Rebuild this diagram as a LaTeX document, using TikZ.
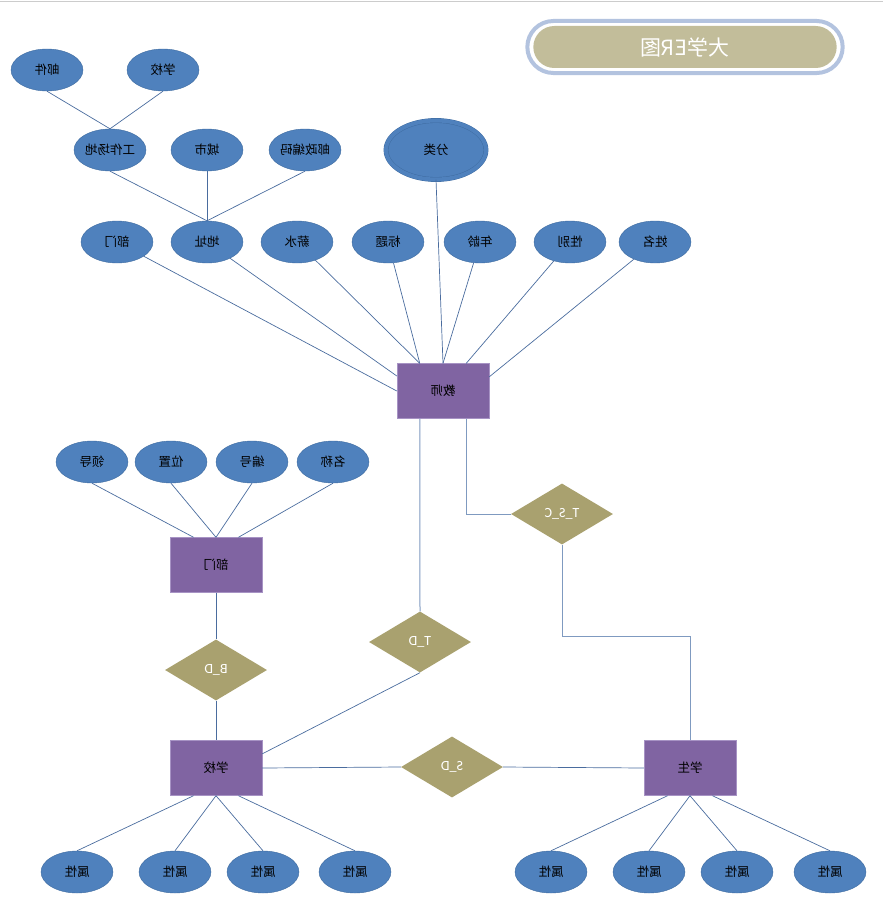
\documentclass[tikz,border=0pt]{standalone}
\usepackage{graphicx}
\usepackage{fontspec}
\setmainfont{Noto Sans CJK SC}
\newfontfamily\latinfont{Carlito}
\usetikzlibrary{shapes.geometric,shapes.misc}

\definecolor{ellblue}{HTML}{4F81BD}
\definecolor{ellborder}{HTML}{3D6A9F}
\definecolor{boxpurple}{HTML}{8064A2}
\definecolor{boxborder}{HTML}{A793C4}
\definecolor{relcol}{HTML}{A9A16F}
\definecolor{linecol}{HTML}{4A6C9E}
\definecolor{lightline}{HTML}{7F9AC0}
\definecolor{titletan}{HTML}{C2BD9A}
\definecolor{titleframe}{HTML}{B3C3DF}

% the reference shows all its text mirrored
\newcommand{\mir}[1]{\reflectbox{#1}}

\begin{document}
\begin{tikzpicture}[x=1pt, y=-1pt,
  attr/.style={ellipse, draw=ellborder, fill=ellblue, minimum width=72pt,
    minimum height=42pt, inner sep=0pt, font=\fontsize{12.5}{14}\selectfont},
  entity/.style={rectangle, draw=boxborder, fill=boxpurple, minimum width=92pt,
    minimum height=55pt, font=\fontsize{12.5}{14}\selectfont},
  rel/.style={diamond, fill=relcol, minimum width=102pt, minimum height=61pt,
    inner sep=0pt, text=white, font=\latinfont\fontsize{14}{16}\selectfont},
  link/.style={draw=linecol, line width=0.7pt},
  softlink/.style={draw=lightline, line width=1pt}]
  \useasboundingbox (0,0) rectangle (883,907);
  \draw[gray!40] (0,1) -- (883,1);

  % title
  \node[rounded rectangle, draw=titleframe, line width=4pt, fill=white,
    minimum width=322pt, minimum height=52pt] (titlebox) at (685,47) {};
  \node[rounded rectangle, fill=titletan, minimum width=310pt, minimum height=42pt,
    text=white, font=\fontsize{21}{24}\selectfont] (title) at (685,47) {\mir{大学ER图}};

  % entities
  \node[entity] (js) at (443,391) {\mir{教师}};
  \node[entity] (bmb) at (216,565) {\mir{部门}};
  \node[entity] (xx) at (216,768) {\mir{学校}};
  \node[entity] (xs) at (690,768) {\mir{学生}};

  % relations
  \node[rel] (tsc) at (562,514) {\mir{T\_S\_C}};
  \node[rel] (td) at (420,642) {\mir{T\_D}};
  \node[rel] (bd) at (216,670) {\mir{B\_D}};
  \node[rel] (sd) at (452,767) {\mir{S\_D}};

  % teacher attributes
  \node[attr] (yj) at (47,70) {\mir{邮件}};
  \node[attr] (xxa) at (163,70) {\mir{学校}};
  \node[attr] (gzcd) at (110,150) {\mir{工作场地}};
  \node[attr] (cs) at (207,150) {\mir{城市}};
  \node[attr] (ybbm) at (305,150) {\mir{邮政编码}};
  \node[attr, draw=ellborder, double=ellblue, double distance=4pt,
    minimum width=100pt, minimum height=59pt] (fl) at (436,150) {\mir{分类}};
  \node[attr] (bm) at (117,242) {\mir{部门}};
  \node[attr] (dz) at (207,242) {\mir{地址}};
  \node[attr] (xsh) at (297,242) {\mir{薪水}};
  \node[attr] (bt) at (388,242) {\mir{标题}};
  \node[attr] (nl) at (480,242) {\mir{年龄}};
  \node[attr] (xb) at (570,242) {\mir{性别}};
  \node[attr] (xm) at (655,242) {\mir{姓名}};

  % department attributes
  \node[attr] (ld) at (92,462) {\mir{领导}};
  \node[attr] (wz) at (171,462) {\mir{位置}};
  \node[attr] (bh) at (252,462) {\mir{编号}};
  \node[attr] (mc) at (333,462) {\mir{名称}};

  % school and student attributes
  \foreach \x [count=\i] in {77,175,263,355}
    \node[attr] (sa\i) at (\x,872) {\mir{属性}};
  \foreach \x [count=\i] in {551,649,737,830}
    \node[attr] (ta\i) at (\x,872) {\mir{属性}};

  % address tree
  \draw[link] (yj.south) -- (gzcd.north);
  \draw[link] (xxa.south) -- (gzcd.north);
  \draw[link] (gzcd.south) -- (dz.north);
  \draw[link] (cs.south) -- (dz.north);
  \draw[link] (ybbm.south) -- (dz.north);

  % teacher links
  \draw[link] (bm) -- (js.west);
  \draw[link] (dz) -- (js.162);
  \draw[link] (xsh) -- (js.130);
  \draw[link] (bt) -- (js.130);
  \draw[link] (fl.south) -- (js.north);
  \draw[link] (nl) -- (js.north);
  \draw[link] (xb) -- (js.50);
  \draw[link] (xm) -- (js.17);

  % department links
  \draw[link] (ld.south) -- (bmb.129);
  \draw[link] (wz.south) -- (bmb.north);
  \draw[link] (bh.south) -- (bmb.north);
  \draw[link] (mc.south) -- (bmb.51);

  % relations
  \draw[softlink] (js.-50) |- (tsc.west);
  \draw[softlink] (tsc.south) -- ++(0,92) -| (xs.north);
  \draw[softlink] (js.-130) -- (td.north);
  \draw[link] (td.south) -- (xx.17);
  \draw[link] (bmb.south) -- (bd.north);
  \draw[link] (bd.south) -- (xx.north);
  \draw[link] (xx.east) -- (sd.west);
  \draw[link] (sd.east) -- (xs.west);

  % bottom attributes
  \foreach \i/\a in {1/-129,2/-90,3/-90,4/-51} {
    \draw[link] (xx.\a) -- (sa\i.north);
    \draw[link] (xs.\a) -- (ta\i.north);
  }
\end{tikzpicture}
\end{document}
